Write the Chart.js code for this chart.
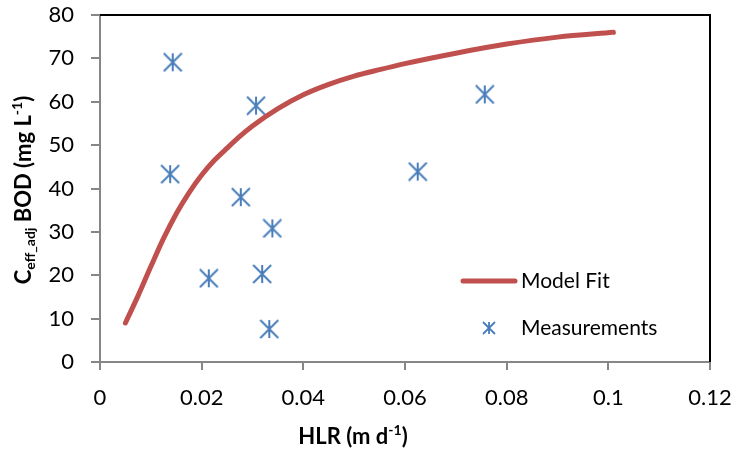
<!DOCTYPE html>
<html>
<head>
<meta charset="utf-8">
<script src="https://cdn.jsdelivr.net/npm/chart.js@4/dist/chart.umd.min.js"></script>
<style>
  html, body { margin: 0; padding: 0; background: #fff; }
  #wrap { width: 738px; height: 450px; }
</style>
</head>
<body>
<div id="wrap"><canvas id="c" width="738" height="450"></canvas></div>
<script>
// ---- data ----
const measX = [0.0143, 0.0138, 0.0214, 0.0277, 0.0307, 0.0319, 0.0333, 0.0339, 0.0625, 0.0757];
const measY = [69.1, 43.3, 19.3, 38.0, 59.1, 20.3, 7.6, 30.8, 43.9, 61.7];
const modelX = [0.005, 0.0075, 0.010, 0.0125, 0.015, 0.0175, 0.020, 0.0225, 0.025, 0.0275, 0.030, 0.035, 0.040, 0.045, 0.050, 0.055, 0.060, 0.070, 0.080, 0.090, 0.101];
const modelY = [9.0, 15.3, 22.0, 28.5, 34.2, 39.0, 43.1, 46.5, 49.3, 52.0, 54.4, 58.4, 61.6, 64.0, 65.9, 67.4, 68.8, 71.2, 73.3, 74.9, 76.0];
const xTickLabels = ['0', '0.02', '0.04', '0.06', '0.08', '0.1', '0.12'];
const yTickLabels = ['0', '10', '20', '30', '40', '50', '60', '70', '80'];
const seriesNames = ['Model Fit', 'Measurements'];

const FONT = 'Lato, "Liberation Sans", sans-serif';
const BLUE = '#4A7EBB';
const RED = '#C0504D';
const AXIS = '#868686';

function asterisk(size, lw) {
  const cv = document.createElement('canvas');
  cv.width = size; cv.height = size;
  const g = cv.getContext('2d');
  const c = size / 2, r = size / 2 - 1;
  g.strokeStyle = BLUE; g.lineWidth = lw; g.lineCap = 'butt';
  g.beginPath();
  g.moveTo(c, c - r); g.lineTo(c, c + r);
  g.moveTo(c - r, c - r); g.lineTo(c + r, c + r);
  g.moveTo(c + r, c - r); g.lineTo(c - r, c + r);
  g.stroke();
  return cv;
}
const starBig = asterisk(20, 2);
const starSmall = asterisk(14, 1.8);

function drawRich(ctx, parts, cx, cy) {
  let total = 0;
  parts.forEach(p => { ctx.font = 'bold ' + p[1] + 'px ' + FONT; total += ctx.measureText(p[0]).width; });
  let x = cx - total / 2;
  ctx.textBaseline = 'middle';
  ctx.textAlign = 'left';
  parts.forEach(p => {
    ctx.font = 'bold ' + p[1] + 'px ' + FONT;
    ctx.fillText(p[0], x, cy + p[2]);
    x += ctx.measureText(p[0]).width;
  });
}

function noPad(s) { s.paddingLeft = 0; s.paddingRight = 0; s.paddingTop = 0; s.paddingBottom = 0; }

const decor = {
  id: 'decor',
  afterDraw(chart) {
    const ctx = chart.ctx;
    const a = chart.chartArea;
    ctx.save();
    ctx.strokeStyle = '#000';
    ctx.lineWidth = 2;
    ctx.beginPath();
    ctx.moveTo(a.left, a.top);
    ctx.lineTo(a.right, a.top);
    ctx.lineTo(a.right, a.bottom);
    ctx.stroke();
    ctx.fillStyle = '#000';
    drawRich(ctx, [['HLR (m d', 22, 0], ['-1', 14, -7], [')', 22, 0]], 353, 437);
    ctx.save();
    ctx.translate(24, 190);
    ctx.rotate(-Math.PI / 2);
    drawRich(ctx, [['C', 22, 0], ['eff_adj', 14, 6], [' BOD (mg L', 22, 0], ['-1', 14, -7], [')', 22, 0]], 0, 0);
    ctx.restore();
    ctx.strokeStyle = RED; ctx.lineWidth = 5; ctx.lineCap = 'round';
    ctx.beginPath(); ctx.moveTo(463, 281); ctx.lineTo(515, 281); ctx.stroke();
    ctx.drawImage(starSmall, 489 - 7, 328 - 7);
    ctx.font = '21px ' + FONT;
    ctx.fillStyle = '#000';
    ctx.textAlign = 'left'; ctx.textBaseline = 'middle';
    ctx.fillText(seriesNames[0], 521, 281);
    ctx.fillText(seriesNames[1], 521, 328);
    ctx.restore();
  }
};

Chart.defaults.font.family = FONT;
Chart.defaults.color = '#000';

new Chart(document.getElementById('c'), {
  type: 'scatter',
  data: {
    datasets: [
      {
        label: seriesNames[0],
        data: modelX.map((x, i) => ({ x: x, y: modelY[i] })),
        showLine: true,
        borderColor: RED,
        borderWidth: 5,
        borderCapStyle: 'round',
        borderJoinStyle: 'round',
        cubicInterpolationMode: 'monotone',
        pointRadius: 0,
        pointHoverRadius: 0
      },
      {
        label: seriesNames[1],
        data: measX.map((x, i) => ({ x: x, y: measY[i] })),
        showLine: false,
        pointStyle: starBig,
        pointRadius: 10
      }
    ]
  },
  options: {
    responsive: false,
    animation: false,
    events: [],
    layout: { padding: { left: 0, right: 28, top: 15, bottom: 0 } },
    plugins: { legend: { display: false }, tooltip: { enabled: false } },
    scales: {
      x: {
        type: 'linear',
        min: 0, max: 0.12,
        afterFit(s) { s.height = 88; noPad(s); },
        ticks: { stepSize: 0.02, padding: 15, font: { size: 22 }, color: '#000',
                 callback: (v, i) => xTickLabels[i] },
        grid: { drawOnChartArea: false, drawTicks: true, tickLength: 8, color: AXIS, lineWidth: 2 },
        border: { color: AXIS, width: 2 }
      },
      y: {
        type: 'linear',
        min: 0, max: 80,
        afterFit(s) { s.width = 100; noPad(s); },
        ticks: { stepSize: 10, padding: 17, font: { size: 22 }, color: '#000',
                 callback: (v, i) => yTickLabels[i] },
        grid: { drawOnChartArea: false, drawTicks: true, tickLength: 9, color: AXIS, lineWidth: 2 },
        border: { color: AXIS, width: 2 }
      }
    }
  },
  plugins: [decor]
});
</script>
</body>
</html>
